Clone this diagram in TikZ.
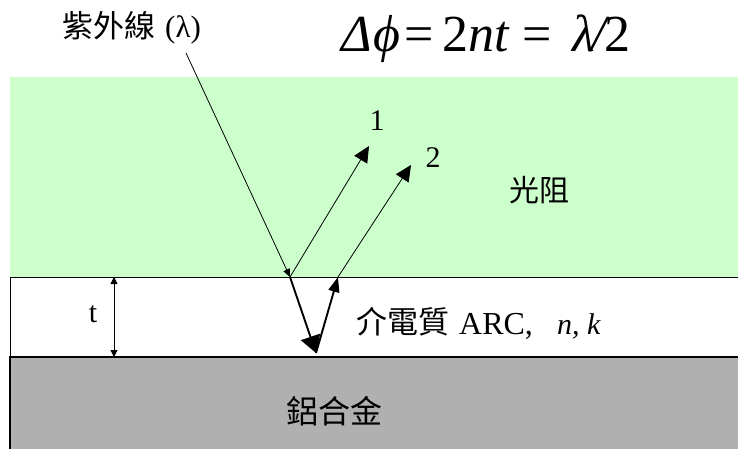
\documentclass[tikz,border=0pt]{standalone}
\usepackage{fontspec}
\usetikzlibrary{arrows.meta}
\setmainfont{Liberation Serif}
\newfontfamily\cjkFont{Noto Sans CJK TC}
\definecolor{resistGreen}{HTML}{CCFFCC}
\definecolor{alloyGray}{HTML}{B0B0B0}
\tikzset{
  pLabel/.style={anchor=base, inner sep=0pt},
  pThin/.style={line width=0.8pt},
  pBeamIn/.style={pThin, -{Triangle[length=8pt,width=7pt]}},
  pBeamOut/.style={pThin, -{Triangle[length=16pt,width=15pt]}},
  pFilmOut/.style={line width=1.9pt, -{Triangle[length=17pt,width=20pt]}},
  pFilmUp/.style={line width=1.9pt, -{Triangle[length=15pt,width=11pt]}},
  pDim/.style={pThin, {Triangle[length=7pt,width=7pt]}-{Triangle[length=7pt,width=7pt]}},
}
\begin{document}
\begin{tikzpicture}[x=1em,y=-1em]
\useasboundingbox (0,0) rectangle (73.8,44.9);
\fill[resistGreen] (1,7.7) rectangle (73.8,27.7);
\fill[alloyGray] (1,35.7) rectangle (73.8,44.9);
\draw[pThin] (73.8,27.7) -- (1,27.7) -- (1,35.7);
\draw[line width=1.6pt] (1,44.9) -- (1,35.7) -- (73.8,35.7);
\coordinate (uvStart) at (18.6,5.3);
\coordinate (hitTop) at (29.0,27.7);
\coordinate (hitBottom) at (31.6,35.3);
\coordinate (exitTop) at (33.8,27.7);
\coordinate (rayOneEnd) at (36.9,14.6);
\coordinate (rayTwoEnd) at (41.1,16.5);
\coordinate (dimTop) at (11.4,27.7);
\coordinate (dimBottom) at (11.4,35.7);
\draw[pBeamIn] (uvStart) -- (hitTop);
\draw[pBeamOut] (hitTop) -- (rayOneEnd);
\draw[pBeamOut] (exitTop) -- (rayTwoEnd);
\draw[pFilmOut] (hitTop) -- (hitBottom);
\draw[pFilmUp] (hitBottom) -- (exitTop);
\draw[pDim] (dimTop) -- (dimBottom);
\node[pLabel] (uvText) at (6.2,3.8) [anchor=base west] {\fontsize{31}{31}\selectfont\cjkFont 紫外線};
\node[pLabel] (uvSymbol) at (16.5,3.8) [anchor=base west] {\fontsize{31}{31}\selectfont (λ)};
\node[pLabel] (eqDelta) at (35.7,5.2) {\fontsize{52}{52}\selectfont\itshape Δ};
\node[pLabel] (eqPhi) at (38.7,5.2) {\fontsize{52}{52}\selectfont\itshape ϕ};
\node[pLabel] (eqFirst) at (41.9,5.2) {\fontsize{52}{52}\selectfont =};
\node[pLabel] (eqPath) at (47.6,5.2) {\fontsize{52}{52}\selectfont 2\textit{nt}};
\node[pLabel] (eqSecond) at (53.7,5.2) {\fontsize{52}{52}\selectfont =};
\node[pLabel] (eqLambda) at (58.4,5.2) {\fontsize{52}{52}\selectfont\itshape λ};
\node[pLabel] (eqSlash) at (59.9,5.2) {\fontsize{52}{52}\selectfont\itshape /};
\node[pLabel] (eqTwo) at (61.7,5.2) {\fontsize{52}{52}\selectfont 2};
\node[pLabel] (rayOne) at (37.7,13.0) {\fontsize{30}{30}\selectfont 1};
\node[pLabel] (rayTwo) at (43.3,16.7) {\fontsize{30}{30}\selectfont 2};
\node[pLabel] (resistText) at (53.9,20.1) {\fontsize{30}{30}\selectfont\cjkFont 光阻};
\node[pLabel] (thickness) at (9.3,32.2) {\fontsize{30}{30}\selectfont t};
\node[pLabel] (filmText) at (35.6,33.3) [anchor=base west] {\fontsize{31}{31}\selectfont\cjkFont 介電質};
\node[pLabel] (filmArc) at (45.9,33.4) [anchor=base west] {\fontsize{32}{32}\selectfont ARC,};
\node[pLabel] (filmIndex) at (55.7,33.4) [anchor=base west] {\fontsize{30}{30}\selectfont\itshape n, k};
\node[pLabel] (alloyText) at (33.4,42.3) {\fontsize{32}{32}\selectfont\cjkFont 鋁合金};
\end{tikzpicture}
\end{document}
